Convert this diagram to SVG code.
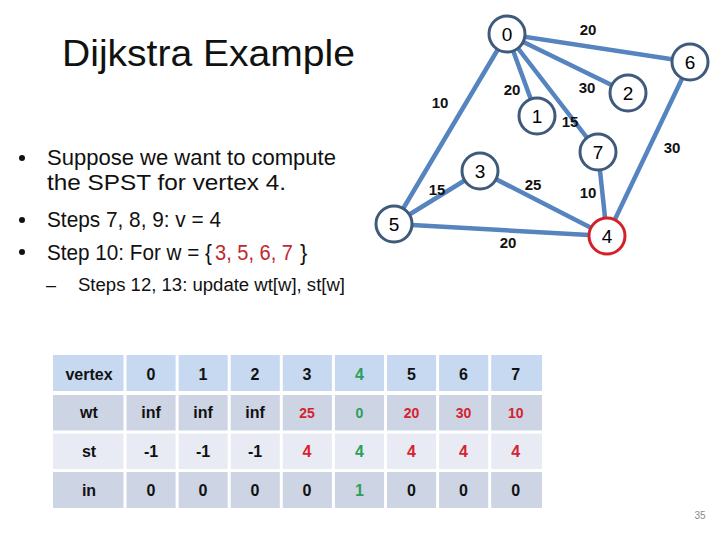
<svg xmlns="http://www.w3.org/2000/svg" width="720" height="540" viewBox="0 0 720 540">
<style>
.t{font-family:"Liberation Sans",Arial,sans-serif;fill:#111}
.edge{stroke:#5584BE;stroke-width:4.5;stroke-linecap:round}
.node circle{fill:#fff;stroke:#3F5A7B;stroke-width:3}
.node text{font-family:"Liberation Sans",Arial,sans-serif;font-size:19px;fill:#000;text-anchor:middle}
.el{font-family:"Liberation Sans",Arial,sans-serif;font-size:15px;font-weight:bold;fill:#111;text-anchor:middle}
.c{font-family:"Liberation Sans",Arial,sans-serif;font-size:16px;font-weight:bold;fill:#111;text-anchor:middle}
.s{font-size:14px}
.r{fill:#D52330}
.g{fill:#2E9E5A}
.hd{fill:#C6D9F1}
.dk{fill:#CDD4E4}
.lt{fill:#E8EBF3}
</style>
<rect width="720" height="540" fill="#fff"/>
<text class="t" x="62" y="66" font-size="36" textLength="293" lengthAdjust="spacingAndGlyphs">Dijkstra Example</text>
<g id="bullets">
<circle cx="22" cy="158" r="3" fill="#111"/>
<circle cx="22" cy="220" r="3" fill="#111"/>
<circle cx="22" cy="252" r="3" fill="#111"/>
<text class="t" x="47" y="165" font-size="22" textLength="289" lengthAdjust="spacingAndGlyphs">Suppose we want to compute</text>
<text class="t" x="47" y="190" font-size="22" textLength="239" lengthAdjust="spacingAndGlyphs">the SPST for vertex 4.</text>
<text class="t" x="47" y="227" font-size="22" textLength="174" lengthAdjust="spacingAndGlyphs">Steps 7, 8, 9: v = 4</text>
<text class="t" x="47" y="260" font-size="22" textLength="165" lengthAdjust="spacingAndGlyphs">Step 10: For w = {</text>
<text class="t" x="215" y="260" font-size="22" textLength="78" lengthAdjust="spacingAndGlyphs" style="fill:#C0282D">3, 5, 6, 7</text>
<text class="t" x="300" y="260" font-size="22">}</text>
<text class="t" x="46" y="291" font-size="18">–</text>
<text class="t" x="78" y="291" font-size="18" textLength="267" lengthAdjust="spacingAndGlyphs">Steps 12, 13: update wt[w], st[w]</text>
</g>
<g id="connectors">
<line class="edge" x1="507" y1="34" x2="690" y2="62"/>
<line class="edge" x1="507" y1="34" x2="394" y2="224"/>
<line class="edge" x1="507" y1="34" x2="537" y2="116"/>
<line class="edge" x1="507" y1="34" x2="598" y2="152"/>
<line class="edge" x1="507" y1="34" x2="628" y2="93"/>
<line class="edge" x1="394" y1="224" x2="480" y2="171"/>
<line class="edge" x1="480" y1="171" x2="607" y2="236"/>
<line class="edge" x1="394" y1="224" x2="607" y2="236"/>
<line class="edge" x1="598" y1="152" x2="607" y2="236"/>
<line class="edge" x1="690" y1="62" x2="607" y2="236"/>
</g>
<g id="edge-labels">
<text class="el" x="588" y="35">20</text>
<text class="el" x="440" y="108">10</text>
<text class="el" x="512" y="95">20</text>
<text class="el" x="587" y="93">30</text>
<text class="el" x="570" y="127">15</text>
<text class="el" x="672" y="153">30</text>
<text class="el" x="437" y="195">15</text>
<text class="el" x="533" y="190">25</text>
<text class="el" x="588" y="198">10</text>
<text class="el" x="508" y="248">20</text>
</g>
<g id="node0" class="node"><circle cx="507" cy="34" r="18"/><text x="507" y="41">0</text></g>
<g id="node6" class="node"><circle cx="690" cy="62" r="18"/><text x="690" y="69">6</text></g>
<g id="node2" class="node"><circle cx="628" cy="93" r="18"/><text x="628" y="100">2</text></g>
<g id="node1" class="node"><circle cx="537" cy="116" r="18"/><text x="537" y="123">1</text></g>
<g id="node7" class="node"><circle cx="598" cy="152" r="18"/><text x="598" y="159">7</text></g>
<g id="node3" class="node"><circle cx="480" cy="171" r="18"/><text x="480" y="178">3</text></g>
<g id="node5" class="node"><circle cx="394" cy="224" r="18"/><text x="394" y="231">5</text></g>
<g id="node4" class="node"><circle cx="607" cy="236" r="18" style="stroke:#D42028"/><text x="607" y="243">4</text></g>
<g id="table">
<rect class="hd" x="53" y="355" width="489" height="36"/>
<rect class="dk" x="53" y="395" width="489" height="36"/>
<rect class="lt" x="53" y="433" width="489" height="36"/>
<rect class="dk" x="53" y="472" width="489" height="36"/>
<g stroke="#fff" stroke-width="3">
<line x1="125" y1="354" x2="125" y2="510"/>
<line x1="177.1" y1="354" x2="177.1" y2="510"/>
<line x1="229.2" y1="354" x2="229.2" y2="510"/>
<line x1="281.3" y1="354" x2="281.3" y2="510"/>
<line x1="333.4" y1="354" x2="333.4" y2="510"/>
<line x1="385.5" y1="354" x2="385.5" y2="510"/>
<line x1="437.6" y1="354" x2="437.6" y2="510"/>
<line x1="489.7" y1="354" x2="489.7" y2="510"/>
<line x1="52" y1="432" x2="543" y2="432"/>
<line x1="52" y1="470.5" x2="543" y2="470.5"/>
</g>
<text class="c" x="89" y="380">vertex</text>
<text class="c" x="151" y="380">0</text>
<text class="c" x="203" y="380">1</text>
<text class="c" x="255" y="380">2</text>
<text class="c" x="307" y="380">3</text>
<text class="c g" x="359.5" y="380">4</text>
<text class="c" x="411.5" y="380">5</text>
<text class="c" x="463.5" y="380">6</text>
<text class="c" x="515.8" y="380">7</text>
<text class="c" x="89" y="418">wt</text>
<text class="c" x="151" y="418">inf</text>
<text class="c" x="203" y="418">inf</text>
<text class="c" x="255" y="418">inf</text>
<text class="c s r" x="307" y="418">25</text>
<text class="c s g" x="359.5" y="418">0</text>
<text class="c s r" x="411.5" y="418">20</text>
<text class="c s r" x="463.5" y="418">30</text>
<text class="c s r" x="515.8" y="418">10</text>
<text class="c" x="89" y="457">st</text>
<text class="c" x="151" y="457">-1</text>
<text class="c" x="203" y="457">-1</text>
<text class="c" x="255" y="457">-1</text>
<text class="c r" x="307" y="457">4</text>
<text class="c g" x="359.5" y="457">4</text>
<text class="c r" x="411.5" y="457">4</text>
<text class="c r" x="463.5" y="457">4</text>
<text class="c r" x="515.8" y="457">4</text>
<text class="c" x="89" y="496">in</text>
<text class="c" x="151" y="496">0</text>
<text class="c" x="203" y="496">0</text>
<text class="c" x="255" y="496">0</text>
<text class="c" x="307" y="496">0</text>
<text class="c g" x="359.5" y="496">1</text>
<text class="c" x="411.5" y="496">0</text>
<text class="c" x="463.5" y="496">0</text>
<text class="c" x="515.8" y="496">0</text>
</g>
<text class="t" x="700" y="519" font-size="10" text-anchor="middle" style="fill:#8a8a8a">35</text>
</svg>
